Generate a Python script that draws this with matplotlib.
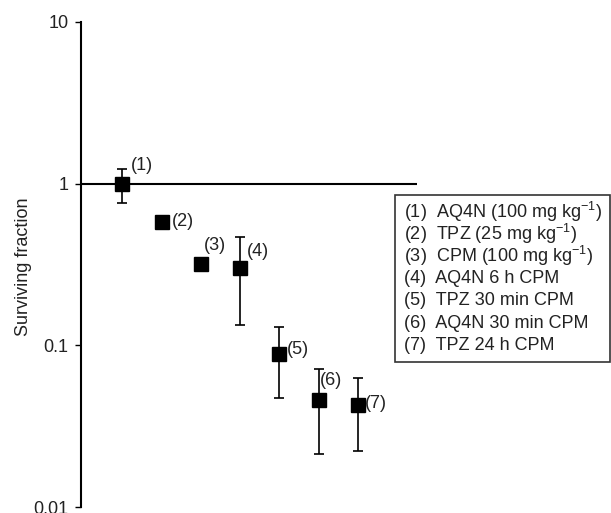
import matplotlib
matplotlib.use("Agg")
import matplotlib.pyplot as plt
from matplotlib.patches import Rectangle

plt.rcParams['font.family'] = ['Liberation Sans', 'DejaVu Sans']
plt.rcParams['mathtext.fontset'] = 'custom'
plt.rcParams['mathtext.rm'] = 'Liberation Sans'
plt.rcParams['mathtext.it'] = 'Liberation Sans'

# Data
groups = [1, 2, 3, 4, 5, 6, 7]
point_labels = ["(1)", "(2)", "(3)", "(4)", "(5)", "(6)", "(7)"]
surviving = [1.0, 0.58, 0.32, 0.30, 0.089, 0.046, 0.043]
err_upper = [1.24, 0.61, 0.32, 0.47, 0.129, 0.071, 0.0625]
err_lower = [0.76, 0.55, 0.32, 0.134, 0.047, 0.0213, 0.0222]
legend_labels = [
    r"(1)  AQ4N (100 mg kg$^{-1}$)",
    r"(2)  TPZ (25 mg kg$^{-1}$)",
    r"(3)  CPM (100 mg kg$^{-1}$)",
    "(4)  AQ4N 6 h CPM",
    "(5)  TPZ 30 min CPM",
    "(6)  AQ4N 30 min CPM",
    "(7)  TPZ 24 h CPM",
]
yticks = [0.01, 0.1, 1, 10]
ytick_labels = ["0.01", "0.1", "1", "10"]

# label offsets in pixels (layout)
label_offsets = [(9, 18), (10, 0), (3, 18), (7, 17), (7, 4), (1, 19), (7, 1)]

W, H = 611, 513
fig = plt.figure(figsize=(W / 100, H / 100), dpi=100)
ax = fig.add_axes([81 / W, 1 - 507 / H, (417 - 81) / W, (507 - 22) / H])

ax.set_yscale('log')
ax.set_ylim(0.01, 10)
ax.set_xlim(-0.05, 8.5)

ax.axhline(1, color='black', lw=1.5, zorder=1)

lo = [s - l for s, l in zip(surviving, err_lower)]
hi = [u - s for s, u in zip(surviving, err_upper)]
ax.errorbar(groups, surviving, yerr=[lo, hi], fmt='s', color='black',
            ms=9.5, elinewidth=1.2, capsize=3.5, capthick=1.2, zorder=3)

for x, y, lab, (dx, dy) in zip(groups, surviving, point_labels, label_offsets):
    ax.annotate(lab, (x, y), xytext=(dx, dy), textcoords='offset pixels',
                ha='left', va='center', fontsize=13, color='#222222')

for side in ['top', 'right', 'bottom']:
    ax.spines[side].set_visible(False)
ax.spines['left'].set_linewidth(1.5)
ax.set_xticks([])
ax.set_yticks(yticks)
ax.set_yticklabels(ytick_labels)
ax.minorticks_off()
ax.tick_params(axis='y', which='major', length=4, width=1, pad=5,
               labelsize=13, labelcolor='#222222')
ax.patch.set_visible(False)

fig.text(24 / W, 1 - 267 / H, "Surviving fraction", rotation=90,
         ha='center', va='center', fontsize=13, color='#222222')

# Legend box
fig.patches.append(Rectangle((395 / W, 1 - 362 / H), (610 - 395) / W, (362 - 195) / H,
                             transform=fig.transFigure, fill=False,
                             edgecolor='#333333', lw=1.2))
for i, lab in enumerate(legend_labels):
    yc = 212 + i * 22.2
    fig.text(404 / W, 1 - yc / H, lab, ha='left', va='center',
             fontsize=13, color='#222222')

fig.savefig("out.png", dpi=100)
